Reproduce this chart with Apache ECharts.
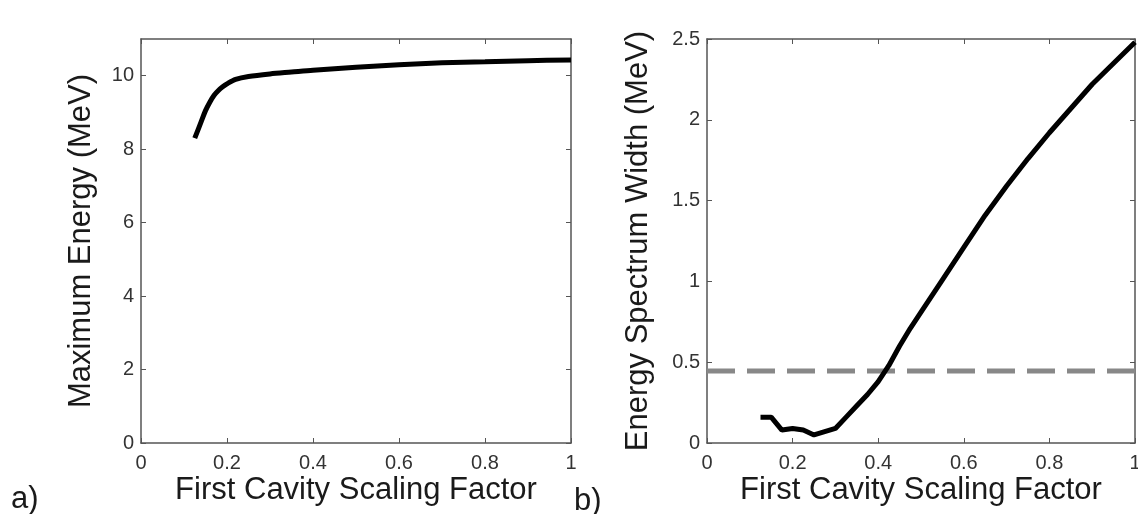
<!DOCTYPE html>
<html>
<head>
<meta charset="utf-8">
<script src="https://cdn.jsdelivr.net/npm/echarts@6/dist/echarts.min.js"></script>
<style>
html,body{margin:0;padding:0;background:#fff;}
#chart{width:1138px;height:514px;}
</style>
</head>
<body>
<div id="chart"></div>
<script>
// Panel a: maximum energy vs first cavity scaling factor
const scaleA = [0.125, 0.14, 0.15, 0.16, 0.17, 0.18, 0.19, 0.2, 0.22, 0.25, 0.3, 0.35, 0.4, 0.5, 0.6, 0.7, 0.8, 0.9, 1.0];
const maxEnergy = [8.3, 8.75, 9.05, 9.28, 9.47, 9.6, 9.7, 9.78, 9.9, 9.98, 10.05, 10.1, 10.15, 10.23, 10.3, 10.35, 10.38, 10.41, 10.43];

// Panel b: energy spectrum width vs first cavity scaling factor
const scaleB = [0.125, 0.15, 0.175, 0.2, 0.225, 0.25, 0.275, 0.3, 0.325, 0.35, 0.375, 0.4, 0.425, 0.45, 0.475, 0.5, 0.55, 0.6, 0.65, 0.7, 0.75, 0.8, 0.85, 0.9, 0.95, 1.0];
const spectrumWidth = [0.16, 0.16, 0.08, 0.09, 0.08, 0.05, 0.07, 0.09, 0.16, 0.23, 0.3, 0.38, 0.48, 0.6, 0.71, 0.81, 1.01, 1.21, 1.41, 1.59, 1.76, 1.92, 2.07, 2.22, 2.35, 2.48];

// Reference threshold (dashed line)
const thresholdX = [0, 1];
const thresholdY = [0.445, 0.445];

const xTicks = [0, 0.2, 0.4, 0.6, 0.8, 1];
const yTicksA = [0, 2, 4, 6, 8, 10];
const yTicksB = [0, 0.5, 1, 1.5, 2, 2.5];

const FONT = 'Liberation Sans, Arial, Helvetica, sans-serif';
const AXC = '#555';
const TXT = '#1a1a1a';
const TITLE_SIZE = 31;
const TICK_SIZE = 20;

function pairs(xs, ys){ return xs.map((x,i)=>[x, ys[i]]); }

function axisCommon(){
  return {
    nameMoveOverlap:false,
    axisLine:{show:true, onZero:false, lineStyle:{color:AXC, width:1.5}},
    axisTick:{show:true, inside:true, length:5, lineStyle:{color:AXC, width:1}},
    splitLine:{show:false}
  };
}

function xAxisPair(gi){
  return [
    Object.assign(axisCommon(), {gridIndex: gi, type:'value', min:0, max:1, interval:0.2, position:'bottom',
     name:'First Cavity Scaling Factor', nameLocation:'middle', nameGap:32,
     nameTextStyle:{fontSize:TITLE_SIZE, color:TXT, fontFamily:FONT},
     axisLabel:{fontSize:TICK_SIZE, color:'#333', fontFamily:FONT, margin:10, customValues:xTicks,
       formatter: v => String(+(+v).toFixed(2))}}),
    Object.assign(axisCommon(), {gridIndex: gi, type:'value', min:0, max:1, interval:0.2, position:'top',
     axisLabel:{show:false}})
  ];
}

function yAxisPair(gi, max, interval, name, gap, ticks){
  const left = Object.assign(axisCommon(), {gridIndex: gi, type:'value', min:0, max:max, interval:interval, position:'left',
     name:name, nameLocation:'middle', nameGap:gap,
     nameTextStyle:{fontSize:TITLE_SIZE, color:TXT, fontFamily:FONT},
     axisLabel:{fontSize:TICK_SIZE, color:'#333', fontFamily:FONT, margin:7, customValues:ticks,
       formatter: v => String(+(+v).toFixed(2))}});
  left.axisTick = Object.assign({}, left.axisTick, {customValues:ticks});
  const right = Object.assign(axisCommon(), {gridIndex: gi, type:'value', min:0, max:max, interval:interval, position:'right',
     axisLabel:{show:false}});
  right.axisTick = Object.assign({}, right.axisTick, {customValues:ticks});
  return [left, right];
}

const chart = echarts.init(document.getElementById('chart'), null, {renderer:'canvas'});
chart.setOption({
  animation:false,
  backgroundColor:'#fff',
  textStyle:{fontFamily:FONT},
  grid:[
    {left:141, top:39, width:430, height:404, outerBoundsMode:'none', containLabel:false},
    {left:707, top:39, width:428, height:404, outerBoundsMode:'none', containLabel:false}
  ],
  xAxis:[...xAxisPair(0), ...xAxisPair(1)],
  yAxis:[
    ...yAxisPair(0, 11, 1, 'Maximum Energy (MeV)', 44, yTicksA),
    ...yAxisPair(1, 2.5, 0.5, 'Energy Spectrum Width (MeV)', 53, yTicksB)
  ],
  graphic:[
    {type:'text', left:11, top:484, style:{text:'a)', fontSize:TITLE_SIZE, fill:TXT, fontFamily:FONT}},
    {type:'text', left:574, top:486, style:{text:'b)', fontSize:TITLE_SIZE, fill:TXT, fontFamily:FONT}}
  ],
  series:[
    {type:'line', xAxisIndex:0, yAxisIndex:0, data:pairs(scaleA, maxEnergy),
     smooth:0.3, showSymbol:false, lineStyle:{color:'#000', width:5}},
    {type:'line', xAxisIndex:2, yAxisIndex:2, data:pairs(thresholdX, thresholdY),
     showSymbol:false, lineStyle:{color:'#888', width:5, type:[28,12]}, z:1},
    {type:'line', xAxisIndex:2, yAxisIndex:2, data:pairs(scaleB, spectrumWidth),
     showSymbol:false, lineStyle:{color:'#000', width:5}, z:2}
  ]
});
</script>
</body>
</html>
